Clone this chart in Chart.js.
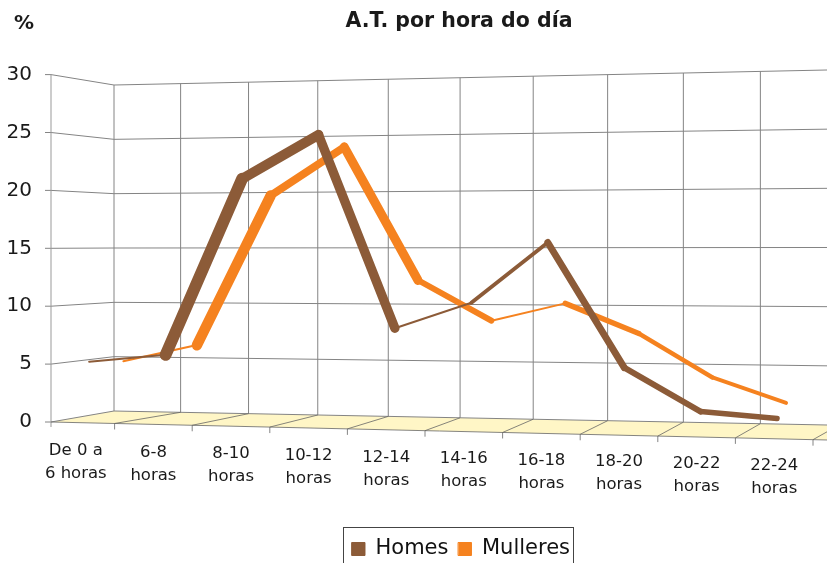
<!DOCTYPE html>
<html><head><meta charset="utf-8">
<script src="https://cdn.jsdelivr.net/npm/chart.js@4.4.1/dist/chart.umd.min.js"></script>
<style>html,body{margin:0;padding:0;background:#fff}#wrap{width:827px;height:563px}</style>
</head><body><div id="wrap"><canvas id="c" width="827" height="563"></canvas></div>
<script>
// ---- data ----
const chartTitle = "A.T. por hora do día";
const unitLabel = "%";
const categories = [["De 0 a","6 horas"],["6-8","horas"],["8-10","horas"],["10-12","horas"],["12-14","horas"],["14-16","horas"],["16-18","horas"],["18-20","horas"],["20-22","horas"],["22-24","horas"]];
const seriesNames = ["Homes", "Mulleres"];
const homes = [5.2, 5.8, 21, 24.8, 8.1, 10.3, 15.5, 4.7, 0.9, 0.3];
const mulleres = [4.9, 6.3, 19.2, 23.4, 11.9, 8.4, 9.9, 7.3, 3.5, 1.3];
const yMin = 0, yMax = 30, yStep = 5;

// ---- styles ----
const colors = ["#8C5B38", "#F5821F"];
// apparent ribbon thickness of each segment (3D look)
const homesSegWidths = [2, 12, 10, 9.5, 2, 4, 7, 6, 5.5];
const mulleresSegWidths = [2, 11, 8, 9.5, 6, 2, 5.5, 4.5, 4];
const segWidths = [homesSegWidths, mulleresSegWidths];
// depth shift of each series (3D perspective)
const depth = [{dx: 14.5, sx: 0.985, dy: 0}, {dx: 51.4, sx: 0.949, dy: -4}];
const F = {frontX: 51, backX: 114, rightX: 827, backLeftTop: 85, backLeftZero: 411,
           backRightTop: 70, backRightZero: 425, frontRightZero: 440};

Chart.defaults.font.family = "'DejaVu Sans', 'Liberation Sans', Arial, sans-serif";
Chart.defaults.color = "#1a1a1a";

const frame3d = {
  id: 'frame3d',
  afterLayout(chart) {
    const t = chart.titleBlock;
    if (t) { const d = 459 - (t.left + t.right) / 2; t.left += d; t.right += d; }
    const l = chart.legend;
    if (l) { const d = 461 - (l.left + l.right) / 2; l.left += d; l.right += d;
             const dy = 528.5 - l.top; l.top += dy; l.bottom += dy; }
  },
  beforeDatasetsDraw(chart) {
    const {ctx, scales: {x, y}} = chart;
    const frac = v => (v - y.min) / (y.max - y.min);
    const yBL = v => F.backLeftZero + (F.backLeftTop - F.backLeftZero) * frac(v);
    const yBR = v => F.backRightZero + (F.backRightTop - F.backRightZero) * frac(v);
    const yBack = (v, xx) => { const t = (xx - F.backX) / (F.rightX - F.backX); return yBL(v) + (yBR(v) - yBL(v)) * t; };
    const y0 = y.getPixelForValue(0);
    const yFront0 = xx => y0 + (F.frontRightZero - y0) * (xx - F.frontX) / (F.rightX - F.frontX);
    const w = x.getPixelForValue(1) - x.getPixelForValue(0);
    const span = 9 * w;
    const bx = fx => F.backX + 0.9255 * (fx - x.left) + 1.08e-4 * (fx - x.left) * (fx - x.left - span);
    ctx.save();
    // floor
    const ext = F.rightX + 40;
    ctx.fillStyle = '#FFF6C6';
    ctx.beginPath();
    ctx.moveTo(F.frontX, y0); ctx.lineTo(F.backX, yBL(0));
    ctx.lineTo(ext, yBack(0, ext)); ctx.lineTo(ext, yFront0(ext)); ctx.closePath(); ctx.fill();
    ctx.lineWidth = 1;
    // horizontal grid (left wall + back wall)
    ctx.strokeStyle = '#848484';
    y.ticks.forEach(tk => {
      const v = tk.value;
      ctx.beginPath();
      ctx.moveTo(F.frontX, y.getPixelForValue(v));
      ctx.lineTo(F.backX, yBL(v));
      ctx.lineTo(ext, yBack(v, ext));
      ctx.stroke();
      ctx.beginPath(); ctx.moveTo(F.frontX - 6, y.getPixelForValue(v)); ctx.lineTo(F.frontX, y.getPixelForValue(v)); ctx.stroke();
    });
    // vertical back-wall grid
    for (let i = 0; i < categories.length; i++) {
      const fx = x.getPixelForValue(i) - w / 2;
      const xb = bx(fx);
      ctx.beginPath(); ctx.moveTo(xb, yBack(yMax, xb)); ctx.lineTo(xb, yBack(0, xb)); ctx.stroke();
    }
    // left axis line
    ctx.strokeStyle = '#999';
    ctx.beginPath(); ctx.moveTo(F.frontX, y.getPixelForValue(yMax)); ctx.lineTo(F.frontX, y0 + 5); ctx.stroke();
    // floor edges & dividers
    ctx.strokeStyle = '#666';
    ctx.lineWidth = 0.8;
    ctx.beginPath(); ctx.moveTo(F.frontX, y0); ctx.lineTo(ext, yFront0(ext)); ctx.stroke();
    for (let i = 1; i <= categories.length; i++) {
      const fx = x.getPixelForValue(i - 1) + w / 2;
      const xb = bx(fx);
      ctx.beginPath(); ctx.moveTo(fx, yFront0(fx)); ctx.lineTo(xb, yBack(0, xb)); ctx.stroke();
      ctx.beginPath(); ctx.moveTo(fx, yFront0(fx)); ctx.lineTo(fx, yFront0(fx) + 6); ctx.stroke();
    }
    ctx.restore();
  },
  beforeDatasetDraw(chart, args) {
    const d = depth[args.index];
    const ctx = chart.ctx;
    ctx.save();
    ctx.translate(d.dx, d.dy);
    ctx.scale(d.sx, 1);
  },
  afterDatasetDraw(chart) { chart.ctx.restore(); },
  afterDraw(chart) {
    const {ctx, scales: {x}} = chart;
    ctx.save();
    // category labels (staggered by perspective)
    ctx.font = "16.5px 'DejaVu Sans'";
    ctx.fillStyle = '#1a1a1a';
    ctx.textAlign = 'center';
    ctx.textBaseline = 'middle';
    categories.forEach((lines, i) => {
      const cx = x.getPixelForValue(i);
      const cy = 451 + i * 1.6;
      lines.forEach((s, k) => ctx.fillText(s, cx, cy + k * 23));
    });
    // unit label
    ctx.font = "bold 20px 'DejaVu Sans'";
    ctx.textAlign = 'left';
    ctx.fillText(unitLabel, 14, 24);
    // legend border
    const l = chart.legend;
    if (l && l.lineWidths) {
      const pad = l.options.labels.padding;
      const lw = l.lineWidths[0];
      const x0 = (l.left + pad + l.right - lw) / 2;
      const x1 = x0 + lw - pad;
      ctx.strokeStyle = '#444';
      ctx.lineWidth = 1;
      ctx.strokeRect(Math.round(x0 - 9) + 0.5, 527.5, Math.round(x1 - x0 + 12), 50);
    }
    ctx.restore();
  }
};

new Chart(document.getElementById('c'), {
  type: 'line',
  data: {
    labels: categories,
    datasets: [homes, mulleres].map((vals, k) => ({
      label: seriesNames[k],
      data: vals,
      borderColor: colors[k],
      backgroundColor: colors[k],
      borderWidth: 1,
      pointRadius: 0,
      tension: 0,
      clip: false,
      borderJoinStyle: 'round',
      borderCapStyle: 'round',
      segment: { borderWidth: c => segWidths[k][c.p0DataIndex] }
    }))
  },
  plugins: [frame3d],
  options: {
    responsive: false,
    animation: false,
    layout: { padding: { left: 0, right: 14, top: 0, bottom: 100 } },
    plugins: {
      title: { display: true, text: chartTitle, font: { size: 20.5, weight: 'bold' },
               color: '#1a1a1a', padding: { top: 9.5, bottom: 40.5 } },
      legend: { position: 'bottom',
                labels: { boxWidth: 13, boxHeight: 13, padding: 10, color: '#111',
                          font: { size: 21 } } },
      tooltip: { enabled: false }
    },
    scales: {
      x: { type: 'category', offset: true, display: false },
      y: { min: yMin, max: yMax,
           ticks: { stepSize: yStep, padding: -3, font: { size: 20 }, color: '#1a1a1a' },
           grid: { display: false }, border: { display: false },
           afterFit(s) { s.width = 37; } }
    }
  }
});
</script></body></html>
